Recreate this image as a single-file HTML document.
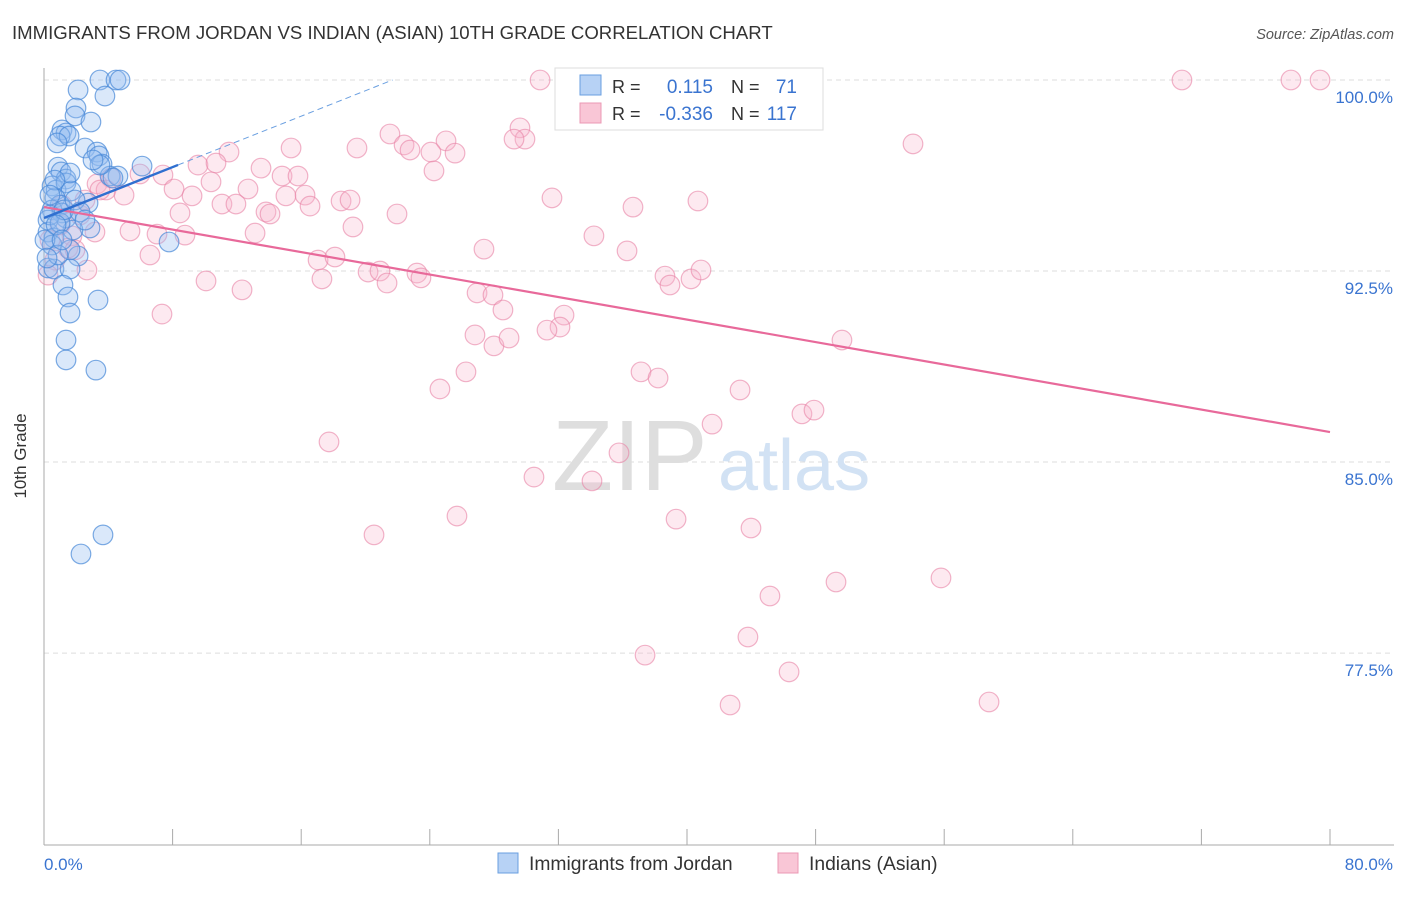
<!DOCTYPE html>
<html><head><meta charset="utf-8"><style>
body{margin:0;background:#fff;font-family:"Liberation Sans",sans-serif}
svg text{font-family:"Liberation Sans",sans-serif}
</style></head><body>
<svg id="chart" width="1406" height="892" xmlns="http://www.w3.org/2000/svg">
<text x="12" y="39" font-size="18.6" fill="#333">IMMIGRANTS FROM JORDAN VS INDIAN (ASIAN) 10TH GRADE CORRELATION CHART</text>
<text x="1394" y="39" font-size="14.5" fill="#555" font-style="italic" text-anchor="end">Source: ZipAtlas.com</text>
<g id="grid"></g>
<g>
<text x="552" y="490" font-size="100" fill="#dedede" font-family="Liberation Serif">ZIP</text>
<text x="718" y="490" font-size="72" fill="#d2e2f4">atlas</text>
</g>
<line x1="44" y1="68" x2="44" y2="845" stroke="#aaa"/>
<line x1="44" y1="845" x2="1394" y2="845" stroke="#aaa"/>
<g id="xticks"></g>
<text x="26" y="456" font-size="17" fill="#333" text-anchor="middle" transform="rotate(-90 26 456)">10th Grade</text>
<g id="ylabels"></g>
<text x="44" y="870" font-size="17" fill="#3a74d0">0.0%</text>
<text x="1393" y="870" font-size="17" fill="#3a74d0" text-anchor="end">80.0%</text>
<g id="pink"></g>
<g id="blue"></g>
<g id="lines"></g>
<g>
<rect x="555" y="68" width="268" height="62" fill="#fff" stroke="#ddd"/>
<rect x="580" y="75" width="21" height="20" fill="#b7d2f5" stroke="#6a9fe0"/>
<rect x="580" y="103" width="21" height="20" fill="#f9c6d6" stroke="#eb98b4"/>
<text x="612" y="93" font-size="18" fill="#333">R = </text>
<text x="713" y="93" font-size="19" fill="#3a74d0" text-anchor="end">0.115</text>
<text x="731" y="93" font-size="18" fill="#333">N = </text>
<text x="797" y="93" font-size="19" fill="#3a74d0" text-anchor="end">71</text>
<text x="612" y="120" font-size="18" fill="#333">R = </text>
<text x="713" y="120" font-size="19" fill="#3a74d0" text-anchor="end">-0.336</text>
<text x="731" y="120" font-size="18" fill="#333">N = </text>
<text x="797" y="120" font-size="19" fill="#3a74d0" text-anchor="end">117</text>
</g>
<g>
<rect x="498" y="853" width="20" height="20" fill="#b7d2f5" stroke="#6a9fe0"/>
<text x="529" y="870" font-size="19.3" fill="#333">Immigrants from Jordan</text>
<rect x="778" y="853" width="20" height="20" fill="#f9c6d6" stroke="#eb98b4"/>
<text x="809" y="870" font-size="19.3" fill="#333">Indians (Asian)</text>
</g>
</svg>
<script>
const yTicks=[100,92.5,85,77.5];
const yTickLabels=["100.0%","92.5%","85.0%","77.5%"];
const xTicks=[0,8,16,24,32,40,48,56,64,72,80];
const blueX=[3.48,4.48,4.73,3.79,2.12,1.99,1.93,2.92,1.12,1.37,1.00,1.56,0.81,2.55,3.30,3.42,3.61,0.87,1.06,1.37,4.11,6.10,0.50,0.75,1.37,1.68,0.68,1.00,0.50,1.12,1.37,0.25,2.74,2.86,0.25,0.62,1.80,0.50,7.78,2.12,1.62,0.25,0.62,1.62,1.18,1.49,3.36,1.62,1.37,1.37,3.23,3.67,2.30,0.37,1.00,0.06,0.87,0.19,4.60,4.29,1.62,0.68,3.48,3.05,1.24,0.37,1.93,2.24,2.55,0.75,1.12];
const blueY=[100,100,100,99.37,99.61,98.90,98.59,98.35,98.04,97.92,97.80,97.80,97.53,97.33,97.17,97.02,96.70,96.58,96.39,96.11,96.23,96.62,95.84,95.68,95.96,95.64,95.37,95.09,94.90,94.78,94.58,94.50,95.17,94.19,94.03,93.80,94.11,93.52,93.64,93.09,93.33,92.62,92.58,92.58,91.95,91.48,91.36,90.85,89.79,89.01,88.61,82.14,81.39,94.70,94.39,93.72,93.13,93.01,96.23,96.15,96.35,96.07,96.66,96.86,94.90,95.48,95.29,94.82,94.50,94.31,93.72];
const pinkX=[30.86,46.84,70.79,77.57,79.38,21.52,29.61,29.92,29.24,22.40,22.77,25.01,24.07,25.57,19.47,15.37,11.51,9.58,10.70,13.50,24.26,54.06,4.17,5.97,7.40,3.30,3.86,4.98,8.09,10.39,12.69,14.81,15.80,15.05,16.24,16.55,9.21,11.07,11.94,13.81,14.06,18.48,19.04,21.96,31.60,36.64,40.68,8.46,5.35,7.03,8.77,13.13,19.22,34.21,36.27,27.37,6.59,17.05,18.10,17.29,20.16,20.90,21.34,23.20,23.45,10.08,12.32,26.94,27.93,28.55,32.35,32.10,31.29,38.63,38.94,40.25,40.87,7.34,26.81,27.99,28.93,49.64,26.25,37.14,38.20,24.63,43.30,47.15,47.90,41.56,17.73,35.77,30.48,34.09,25.69,39.32,20.53,43.98,55.80,49.27,45.16,43.79,37.39,46.35,42.68,58.79,2.67,3.17,1.74,1.00,2.24,0.68,0.25,3.48,1.49,1.12,1.93,2.55,0.37];
const pinkY=[100,100,100,100,100,97.88,98.12,97.68,97.68,97.45,97.25,97.61,97.17,97.13,97.33,97.33,97.17,96.66,96.74,96.54,96.43,97.49,96.15,96.31,96.27,95.92,95.68,95.48,95.72,96.00,95.72,96.23,96.23,95.45,95.48,95.05,95.45,95.13,95.13,94.82,94.74,95.25,95.29,94.74,95.37,95.01,95.25,94.78,94.07,93.95,93.91,93.99,94.23,93.88,93.29,93.36,93.13,92.93,93.05,92.19,92.46,92.50,92.03,92.42,92.23,92.11,91.76,91.64,91.56,90.97,90.77,90.30,90.18,92.30,91.95,92.19,92.54,90.81,89.99,89.56,89.87,89.79,88.54,88.54,88.30,87.87,87.83,86.89,87.04,86.49,85.79,85.36,84.41,84.26,82.88,82.76,82.14,82.41,80.45,80.29,79.74,78.13,77.42,76.76,75.46,75.58,92.54,94.03,93.88,94.31,94.70,92.93,92.34,95.68,93.40,95.09,93.33,95.29,93.72];
const blueTrend=[94.58,0.25];
const pinkTrend=[95.01,-0.1104];
const NS="http://www.w3.org/2000/svg";
const sx=v=>44+v*16.075;
const sy=v=>80+(100-v)*25.47;
function mk(tag,attrs,parent){const e=document.createElementNS(NS,tag);for(const k in attrs)e.setAttribute(k,attrs[k]);parent.appendChild(e);return e;}
const grid=document.getElementById('grid'),yl=document.getElementById('ylabels'),xt=document.getElementById('xticks');
yTicks.forEach((t,i)=>{
  const l=mk('line',{x1:44,x2:1394,y1:sy(t),y2:sy(t),stroke:'#ddd','stroke-dasharray':'5,4'},grid);
  
  
  const tx=mk('text',{x:1393,y:sy(t)+23,'font-size':17,fill:'#3a74d0','text-anchor':'end'},yl);
  tx.textContent=yTickLabels[i];
  
  
});
xTicks.forEach(t=>{
  const l=mk('line',{x1:sx(t),x2:sx(t),y1:829,y2:845,stroke:'#aaa'},xt);
  
  
});
const pg=document.getElementById('pink');
pinkX.forEach((x,i)=>{
  const c=mk('circle',{cx:sx(x),cy:sy(pinkY[i]),r:9.8,fill:'rgba(248,182,204,0.3)',stroke:'rgba(232,130,165,0.6)','stroke-width':1.2},pg);
  
  
});
const bg=document.getElementById('blue');
blueX.forEach((x,i)=>{
  const c=mk('circle',{cx:sx(x),cy:sy(blueY[i]),r:9.8,fill:'rgba(150,190,240,0.35)',stroke:'rgba(70,135,215,0.7)','stroke-width':1.2},bg);
  
  
});
const lg=document.getElementById('lines');
const pl=mk('line',{x1:sx(0),y1:sy(pinkTrend[0]),x2:sx(80),y2:sy(pinkTrend[0]+pinkTrend[1]*80),stroke:'#e8699a','stroke-width':2.2},lg);


const bl=mk('line',{x1:sx(0),y1:sy(blueTrend[0]),x2:sx(8.34),y2:sy(blueTrend[0]+blueTrend[1]*8.34),stroke:'#2f6fd0','stroke-width':2.4},lg);


const xe=(100-blueTrend[0])/blueTrend[1];
const bd=mk('line',{x1:sx(8.34),y1:sy(blueTrend[0]+blueTrend[1]*8.34),x2:sx(xe),y2:sy(100),stroke:'#6a9fe0','stroke-width':1,'stroke-dasharray':'6,4'},lg);


</script>
</body></html>
